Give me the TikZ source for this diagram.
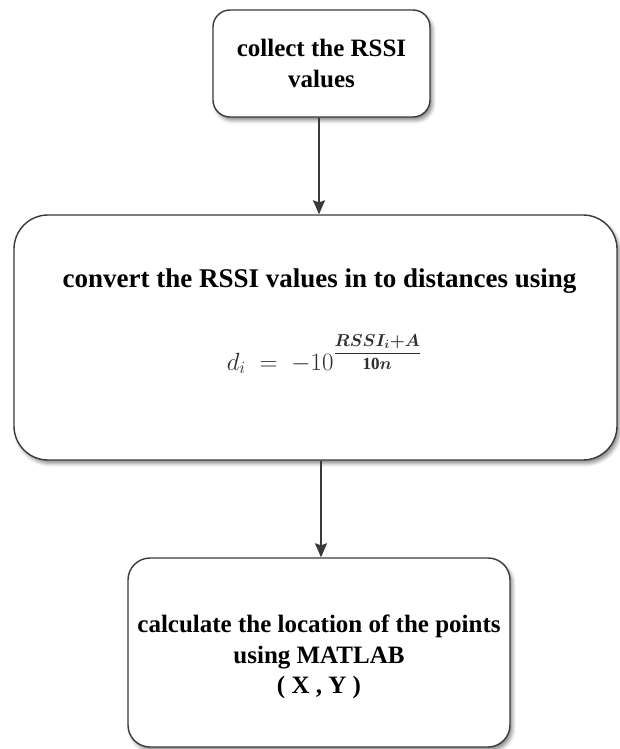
\documentclass[tikz,border=0pt]{standalone}
\usepackage{fontspec}
\setmainfont{Liberation Serif}
\usepackage{amsmath}
\usepackage{bm}
\usetikzlibrary{arrows.meta,shadows.blur}

\definecolor{edge}{HTML}{3A3A3A}
\definecolor{mathgray}{HTML}{2E2E2E}

\tikzset{
  flowbox/.style={draw=edge, line width=1.4pt, fill=white,
    blur shadow={shadow xshift=2.5pt, shadow yshift=-3.5pt,
      shadow blur radius=3.5pt, shadow opacity=45},
    inner sep=0pt, align=center,
    font=\fontsize{25}{30.5}\selectfont\bfseries},
  flowarrow/.style={draw=edge, line width=1.4pt,
    -{Stealth[length=14pt,width=12pt,inset=2pt]}},
  boxtext/.style={inner sep=0pt, align=center},
}

% exponent of the distance formula, set larger than a plain superscript
\newcommand{\rssiexp}{\raisebox{12pt}{\hbox{\fontsize{17}{19}\selectfont
  $\displaystyle\frac{\boldsymbol{RSSI_i{+}A}}{\mathbf{10}\boldsymbol{n}}$}}}

\begin{document}
\begin{tikzpicture}[x=1pt,y=-1pt]
  \useasboundingbox (0,0) rectangle (619,749);

  % process steps
  \node[flowbox, rounded corners=17pt, minimum width=217pt, minimum height=107pt]
    (collect) at (321.5,63.5) {collect the RSSI\\values};

  \node[flowbox, rounded corners=34pt, minimum width=603pt, minimum height=245pt]
    (convert) at (315.5,337.5) {};
  \node[boxtext, anchor=base, font=\fontsize{27}{32}\selectfont\bfseries]
    (convtext) at (319.5,287) {convert the RSSI values in to distances using};
  \node[boxtext, anchor=base, text=mathgray, font=\fontsize{27}{32}\selectfont]
    (formula) at (324,370)
    {$d_i\; =\; -10\rssiexp$};

  \node[flowbox, rounded corners=22pt, minimum width=382pt, minimum height=189pt]
    (locate) at (319,652.5) {};
  \node[boxtext, font=\fontsize{25}{30.5}\selectfont\bfseries]
    (loctext) at (319,657)
    {calculate the location of the points\\using MATLAB\\( X , Y )};

  % connectors
  \coordinate (lineA) at (319,0);
  \coordinate (lineB) at (321,0);
  \draw[flowarrow] (collect.south -| lineA) -- (convert.north -| lineA);
  \draw[flowarrow] (convert.south -| lineB) -- (locate.north -| lineB);
\end{tikzpicture}
\end{document}
